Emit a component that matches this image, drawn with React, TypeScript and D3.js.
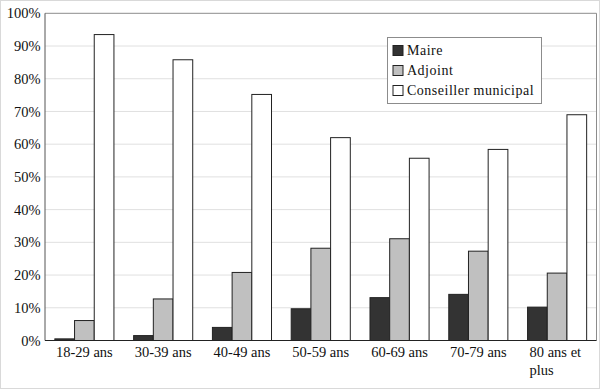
import React from "react";
import * as d3 from "d3";

const categories = ["18-29 ans", "30-39 ans", "40-49 ans", "50-59 ans", "60-69 ans", "70-79 ans", "80 ans et plus"];
const categoryLines = [["18-29 ans"], ["30-39 ans"], ["40-49 ans"], ["50-59 ans"], ["60-69 ans"], ["70-79 ans"], ["80 ans et", "plus"]];
const seriesNames = ["Maire", "Adjoint", "Conseiller municipal"];
const maire = [0.5, 1.5, 4.0, 9.7, 13.1, 14.1, 10.2];
const adjoint = [6.1, 12.7, 20.8, 28.2, 31.1, 27.3, 20.6];
const conseiller = [93.5, 85.8, 75.2, 62.0, 55.7, 58.4, 69.0];
const yTicks = [0, 10, 20, 30, 40, 50, 60, 70, 80, 90, 100];
const colors = ["#333333", "#c0c0c0", "#ffffff"];

const W = 600, H = 389;
const left = 45, right = 596.5, top = 13.3, bottom = 340.5;
const font = "Liberation Serif";

export default function App() {
  const series = [maire, adjoint, conseiller];
  const x = d3.scaleBand<string>().domain(categories).range([left, right]).paddingInner(0.25).paddingOuter(0.125);
  const xs = d3.scaleBand<number>().domain([0, 1, 2]).range([0, x.bandwidth()]);
  const y = d3.scaleLinear().domain([0, 100]).range([bottom, top]);
  const ts: React.CSSProperties = { fontFamily: font };

  return (
    <svg width={W} height={H} style={{ position: "absolute", left: 0, top: 0, background: "#fff" }}>
      <rect x={0.5} y={0.5} width={W - 1} height={H - 1} fill="#fff" stroke="#d9d9d9" />
      {yTicks.map((t) => (
        <g key={t}>
          {t > 0 && t < 100 && (
            <line x1={left} x2={right} y1={y(t)} y2={y(t)} stroke="#e0e0e0" strokeWidth={1} />
          )}
          <text x={40.5} y={y(t)} dy="0.35em" textAnchor="end" fontSize={14.5} fill="#111" style={ts}>
            {t + "%"}
          </text>
        </g>
      ))}
      <line x1={left} x2={right} y1={top} y2={top} stroke="#8c8c8c" />
      <line x1={right} x2={right} y1={top} y2={bottom} stroke="#8c8c8c" />
      <line x1={left} x2={left} y1={top} y2={bottom} stroke="#555" />
      {categories.map((c, i) => {
        const multi = categoryLines[i].length > 1;
        return (
          <g key={c}>
            {series.map((s, k) => (
              <rect
                key={k}
                x={(x(c) as number) + (xs(k) as number)}
                y={y(s[i])}
                width={xs.bandwidth()}
                height={bottom - y(s[i])}
                fill={colors[k]}
                stroke="#222"
                strokeWidth={1}
              />
            ))}
            {categoryLines[i].map((ln, j) => (
              <text
                key={j}
                x={multi ? (x(c) as number) + 2 : (x(c) as number) + x.bandwidth() / 2}
                y={357 + j * 18}
                textAnchor={multi ? "start" : "middle"}
                fontSize={14.5}
                fill="#111"
                style={ts}
              >
                {ln}
              </text>
            ))}
          </g>
        );
      })}
      <line x1={left} x2={right} y1={bottom} y2={bottom} stroke="#222" strokeWidth={1.2} />
      <g>
        <rect x={387.5} y={37.5} width={154} height={66} fill="#fff" stroke="#8c8c8c" />
        {seriesNames.map((n, k) => (
          <g key={n}>
            <rect x={393} y={45.5 + k * 20} width={10} height={10} fill={colors[k]} stroke="#222" />
            <text x={407} y={50.5 + k * 20} dy="0.35em" fontSize={14} letterSpacing={0.5} fill="#111" style={ts}>
              {n}
            </text>
          </g>
        ))}
      </g>
    </svg>
  );
}
